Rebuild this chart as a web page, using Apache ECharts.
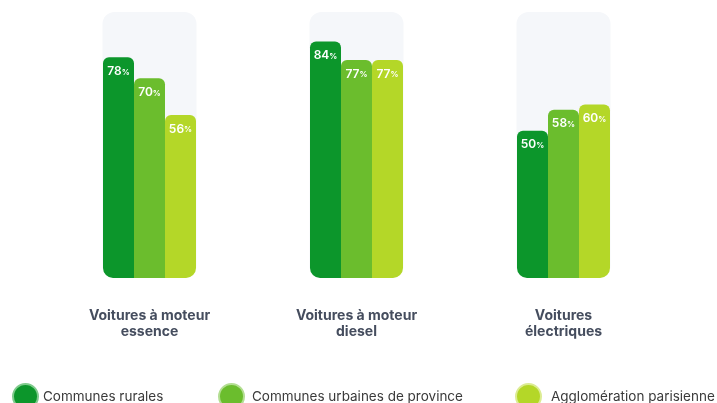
<!DOCTYPE html>
<html>
<head>
<meta charset="utf-8">
<script src="https://cdn.jsdelivr.net/npm/echarts@6/dist/echarts.min.js"></script>
<style>
html,body{margin:0;padding:0;background:#fff;}
#chart{width:717px;height:403px;}
</style>
</head>
<body>
<div id="chart"></div>
<script>
const categories = ["Voitures à moteur\nessence", "Voitures à moteur\ndiesel", "Voitures\nélectriques"];
const seriesNames = ["Communes rurales", "Communes urbaines de province", "Agglomération parisienne"];
const rurales = [78, 84, 50];
const urbaines = [70, 77, 58];
const parisienne = [56, 77, 60];

const values = [rurales, urbaines, parisienne];
const colors = ["#0C962B", "#6BBD2D", "#B4D728"];
const ringColors = ["#7FCB8C", "#B3DE92", "#DCEC93"];
const BASE = 6.2;      // visual base pad of bars
const Y_MAX = 101.5;   // axis top (background panel top)
const radii = [[6,6,0,10],[6,6,0,0],[6,6,10,0]];

const chart = echarts.init(document.getElementById('chart'));

const series = [{
  name: 'bg',
  type: 'bar',
  xAxisIndex: 1,
  barWidth: 94,
  silent: true,
  itemStyle: {color: '#F5F7FA', borderRadius: 12},
  data: categories.map(() => Y_MAX),
  z: 1
}];
values.forEach((arr, i) => {
  series.push({
    name: seriesNames[i],
    type: 'bar',
    barWidth: 31,
    barGap: '0%',
    itemStyle: {color: colors[i], borderRadius: radii[i]},
    label: {
      show: true,
      position: 'insideTop',
      distance: 8,
      formatter: p => '{n|' + arr[p.dataIndex] + '}{p|%}',
      rich: {
        n: {color: '#fff', fontSize: 12, fontWeight: 600, fontFamily: 'Inter'},
        p: {color: '#fff', fontSize: 8, fontWeight: 600, fontFamily: 'Inter', padding: [2,0,0,0]}
      }
    },
    data: arr.map(v => v + BASE),
    z: 2
  });
});

const legendLefts = [7, 213, 510];
const legendTextPad = [0, 3, 5];
const legends = seriesNames.map((n, i) => ({
  left: legendLefts[i],
  top: 378,
  icon: 'circle',
  itemWidth: 25,
  itemHeight: 25,
  itemGap: 6,
  textStyle: {fontSize: 13.5, color: '#3a3a3a', fontFamily: 'Inter', padding: [0, 0, 0, legendTextPad[i]]},
  data: [{name: n, itemStyle: {borderColor: ringColors[i], borderWidth: 2}}]
}));

chart.setOption({
  animation: false,
  grid: {left: 46, width: 621, top: 12, bottom: 125},
  legend: legends,
  xAxis: [{
    type: 'category',
    data: categories,
    axisLine: {show: false},
    axisTick: {show: false},
    axisLabel: {
      margin: 30,
      color: '#454D5E',
      fontSize: 14,
      fontWeight: 'bold',
      lineHeight: 16,
      fontFamily: 'Inter'
    }
  }, {
    type: 'category',
    data: categories,
    show: false
  }],
  yAxis: {type: 'value', min: 0, max: Y_MAX, show: false, splitLine: {show: false}},
  series: series
});
</script>
</body>
</html>
